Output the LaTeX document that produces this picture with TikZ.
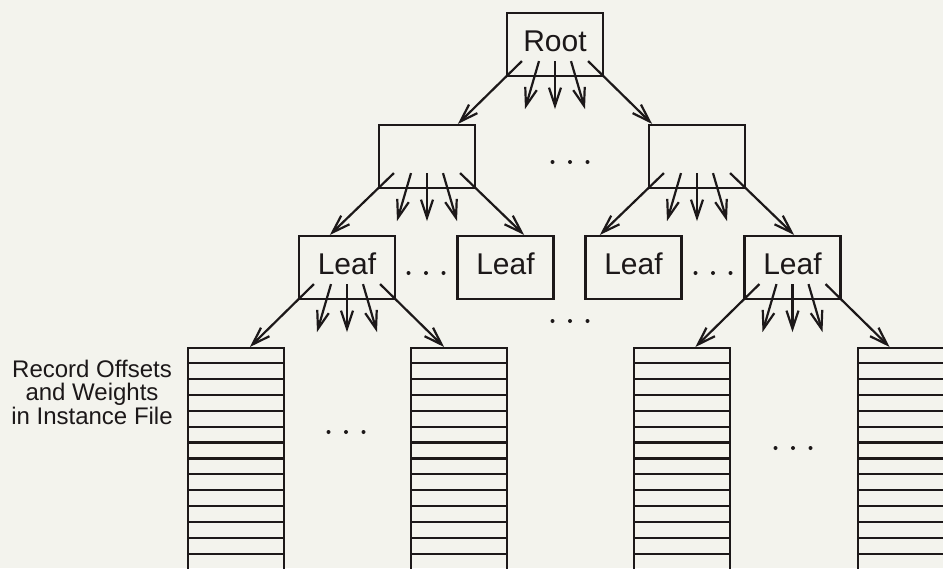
\documentclass[tikz,border=0pt]{standalone}
\usepackage{fontspec}
\setmainfont{Liberation Sans}
\usetikzlibrary{arrows.meta,calc}

\definecolor{ink}{RGB}{28,24,25}
\definecolor{paper}{RGB}{243,243,237}

\tikzset{
  inkline/.style={draw=ink, line width=2.2pt},
  arr/.style={inkline, -{Straight Barb[length=18pt,width=12pt]}},
  treebox/.style={inkline, minimum width=96pt, minimum height=63pt, inner sep=0pt,
    text height=22pt, text depth=9pt, text=ink, font=\fontsize{30}{36}\selectfont},
  stackbox/.style={inkline, anchor=north west, minimum width=96pt,
    minimum height=260pt, inner sep=0pt},
  ellip/.style={minimum width=40pt, minimum height=4pt, inner sep=0pt,
    path picture={\foreach \i in {-1,0,1}
      \fill[ink] ($(path picture bounding box.center)+(\i*17.5,0)$) circle (2);}},
  note/.style={align=center, text=ink, inner sep=0pt, anchor=north,
    font=\fontsize{24}{23.3}\selectfont}
}

% three short pointer arrows fanning out of the bottom of a node
\newcommand\fanout[1]{%
  \foreach \dx/\ex in {-16/-14,0/0,16/14}
    \draw[arr] ($(#1.south)+(\dx,-16)$) -- ($(#1.south)+(\dx+\ex,32)$);
}
% long 45-degree pointer from a bottom corner of a node to a child node
\newcommand\branch[3]{%
  \path ($(#1)+(#2*48,0)$) coordinate (brx);
  \draw[arr] ($(#1)+(0-#2*16,-16)$) -- (brx |- #3.north);
}

\begin{document}
\begin{tikzpicture}[x=1pt,y=-1pt]
  \useasboundingbox (0,0) rectangle (943,568);
  \fill[paper] (0,0) rectangle (943,568);
  \clip (0,0) rectangle (943,568);

  % tree nodes
  \node[treebox] (root) at (555,44.5) {Root};
  \node[treebox] (inA) at (427,156.5) {};
  \node[treebox] (inB) at (697,156.5) {};
  \node[treebox] (leafA) at (347,267.5) {Leaf};
  \node[treebox] (leafB) at (505.5,267.5) {Leaf};
  \node[treebox] (leafC) at (633.5,267.5) {Leaf};
  \node[treebox] (leafD) at (792.5,267.5) {Leaf};

  % record stacks
  \foreach \nm/\xx in {stA/187, stB/410, stC/633, stD/857} {
    \node[stackbox] (\nm) at (\xx,347) {};
    \foreach \k in {1,...,14}
      \draw[inkline] ($(\nm.north west)+(0,\k*15.92)$) -- ($(\nm.north east)+(0,\k*15.92)$);
  }

  % pointers
  \fanout{root}
  \branch{root.south west}{-1}{inA}
  \branch{root.south east}{1}{inB}
  \fanout{inA}
  \branch{inA.south west}{-1}{leafA}
  \branch{inA.south east}{1}{leafB}
  \fanout{inB}
  \branch{inB.south west}{-1}{leafC}
  \branch{inB.south east}{1}{leafD}
  \fanout{leafA}
  \branch{leafA.south west}{-1}{stA}
  \branch{leafA.south east}{1}{stB}
  \fanout{leafD}
  \branch{leafD.south west}{-1}{stC}
  \branch{leafD.south east}{1}{stD}

  % elisions
  \node[ellip] (gapInner) at (570,162) {};
  \node[ellip] (gapLeafL) at (426,273) {};
  \node[ellip] (gapLeafR) at (713,273) {};
  \node[ellip] (gapLeafM) at (570,321) {};
  \node[ellip] (gapStL) at (346,432) {};
  \node[ellip] (gapStR) at (793,448) {};

  % label
  \node[note] (lbl) at (92,360) {Record Offsets\\and Weights\\in Instance File};
\end{tikzpicture}
\end{document}
